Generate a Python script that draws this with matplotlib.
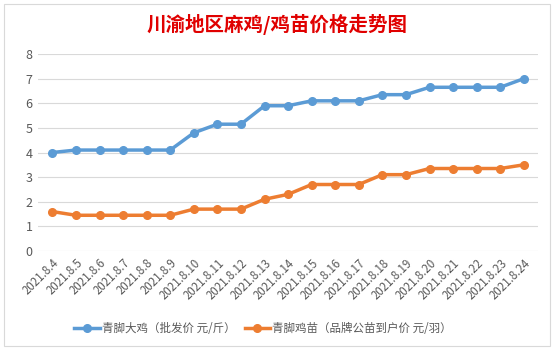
import matplotlib.pyplot as plt
from matplotlib.patches import Rectangle

plt.rcParams['font.family'] = ['Noto Sans CJK SC', 'DejaVu Sans']

dates = ['2021.8.%d' % d for d in range(4, 25)]
big_chicken = [4.0, 4.1, 4.1, 4.1, 4.1, 4.1, 4.8, 5.15, 5.15, 5.9, 5.9,
               6.1, 6.1, 6.1, 6.35, 6.35, 6.65, 6.65, 6.65, 6.65, 7.0]
chick = [1.6, 1.45, 1.45, 1.45, 1.45, 1.45, 1.7, 1.7, 1.7, 2.1, 2.3,
         2.7, 2.7, 2.7, 3.1, 3.1, 3.35, 3.35, 3.35, 3.35, 3.5]

fig = plt.figure(figsize=(5.54, 3.51), dpi=100)
fig.patches.append(Rectangle((0.008, 0.015), 0.984, 0.975, transform=fig.transFigure,
                             fill=False, edgecolor='#d9d9d9', linewidth=0.8))
ax = fig.add_axes([0.069, 0.285, 0.902, 0.561])

x = range(len(dates))
ax.plot(x, big_chicken, color='#5B9BD5', lw=2.5, marker='o', ms=5.5,
        label='青脚大鸡（批发价 元/斤）')
ax.plot(x, chick, color='#ED7D31', lw=2.5, marker='o', ms=5.5,
        label='青脚鸡苗（品牌公苗到户价 元/羽）')

ax.set_ylim(0, 8)
ax.set_xlim(-0.6, len(dates) - 0.4)
ax.set_yticks(range(9))
ax.set_xticks(list(x))
ax.set_xticklabels(dates, rotation=45, ha='right', rotation_mode='anchor')
ax.tick_params(axis='both', length=0, labelsize=8.3, colors='#595959', pad=4)
ax.tick_params(axis='y', labelsize=9)
ax.grid(axis='y', color='#d9d9d9', lw=0.8)
ax.set_axisbelow(True)
for s in ax.spines.values():
    s.set_visible(False)

fig.text(0.5, 0.93, '川渝地区麻鸡/鸡苗价格走势图', ha='center', va='center',
         fontsize=14, fontweight='bold', color='#e00000')
fig.legend(loc='center', bbox_to_anchor=(0.475, 0.065), ncol=2, frameon=False,
           fontsize=8.3, labelcolor='#595959', handlelength=2.2, columnspacing=0.8,
           handletextpad=0.2)

fig.savefig('out.png', dpi=100)
